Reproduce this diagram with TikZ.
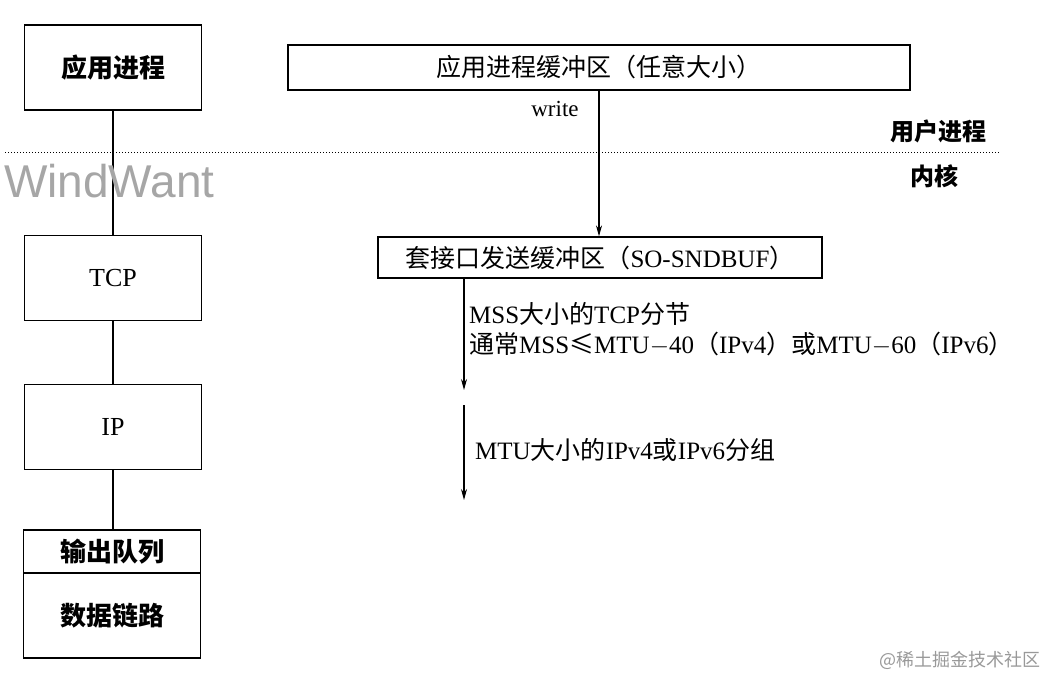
\documentclass[tikz,border=0pt]{standalone}
\usepackage{fontspec}
\setmainfont{Liberation Serif}
\newfontfamily\cjk{Noto Sans CJK SC}
\newfontfamily\wmfont{Liberation Sans}
\usetikzlibrary{arrows.meta,positioning}

\tikzset{
  layerbox/.style={draw,line width=1.3pt,minimum width=177pt,minimum height=85pt,
    inner sep=0pt,font=\fontsize{26}{30}\selectfont},
  bufbox/.style={draw,line width=1.3pt,inner sep=0pt,font=\fontsize{25}{29}\selectfont},
  link/.style={line width=1.3pt},
  flow/.style={line width=1.1pt,-{Stealth[length=11pt,width=6pt]}},
  note/.style={inner sep=0pt,font=\fontsize{25}{30}\selectfont,align=left},
  sidelbl/.style={font=\cjk\bfseries\fontsize{24}{28}\selectfont},
}

\begin{document}
\begin{tikzpicture}[x=1pt,y=-1pt]
\useasboundingbox (0,0) rectangle (1046,676);

% 左侧协议栈
\node[layerbox] (app) at (113,67.5) {\cjk\bfseries 应用进程};
\node[layerbox] (tcp) at (113,278) {TCP};
\node[layerbox] (ip) at (113,427) {IP};
\node[layerbox,minimum height=43pt] (outq) at (112,551.5) {\cjk\bfseries 输出队列};
\node[layerbox] (dlink) at (112,615.5) {\cjk\bfseries 数据链路};

\draw[link] (app) -- (tcp);
\draw[link] (tcp) -- (ip);
\draw[link] (ip.south) -- (ip.south |- outq.north);

% 用户进程 / 内核 分界
\coordinate (kl) at (5,153);
\coordinate (kr) at (1000,153);
\draw[dotted,line width=1pt] (kl) -- (kr);
\node[sidelbl] (userlbl) at (938,131) {用户进程};
\node[sidelbl] (kernlbl) at (934,176) {内核};

% 右侧缓冲区
\node[bufbox,minimum width=622pt,minimum height=45pt] (appbuf) at (599,67.5)
  {\cjk 应用进程缓冲区（任意大小）};
\node[bufbox,minimum width=444pt,minimum height=41pt] (sockbuf) at (600,257.5)
  {{\cjk 套接口发送缓冲区（}SO-SNDBUF{\cjk ）}};

\draw[flow] (appbuf.south) -- (appbuf.south |- sockbuf.north);
\node[font=\fontsize{23}{26}\selectfont] (wlbl) at (555,109) {write};

\coordinate (seg) at (464,390);
\coordinate (pkt) at (464,405);
\coordinate (pktend) at (464,500);
\draw[flow] (sockbuf.south -| seg) -- (seg);
\draw[flow] (pkt) -- (pktend);

\node[note,anchor=north west] (mssnote) at (469,302)
  {MSS{\cjk 大小的}TCP{\cjk 分节}\\
   {\cjk 通常}MSS{\cjk ≤}MTU$-$40{\cjk （}IPv4{\cjk ）或}MTU$-$60{\cjk （}IPv6{\cjk ）}};
\node[note,anchor=west] (mtunote) at (475,450)
  {MTU{\cjk 大小的}IPv4{\cjk 或}IPv6{\cjk 分组}};

% 水印
\node[anchor=west,inner sep=0pt,text=black!35,font=\wmfont\fontsize{46}{50}\selectfont] (wm) at (4,181) {WindWant};
\node[anchor=east,inner sep=0pt,text=black!40,font=\cjk\fontsize{18}{20}\selectfont] (jj) at (1041,660) {@稀土掘金技术社区};
\end{tikzpicture}
\end{document}
